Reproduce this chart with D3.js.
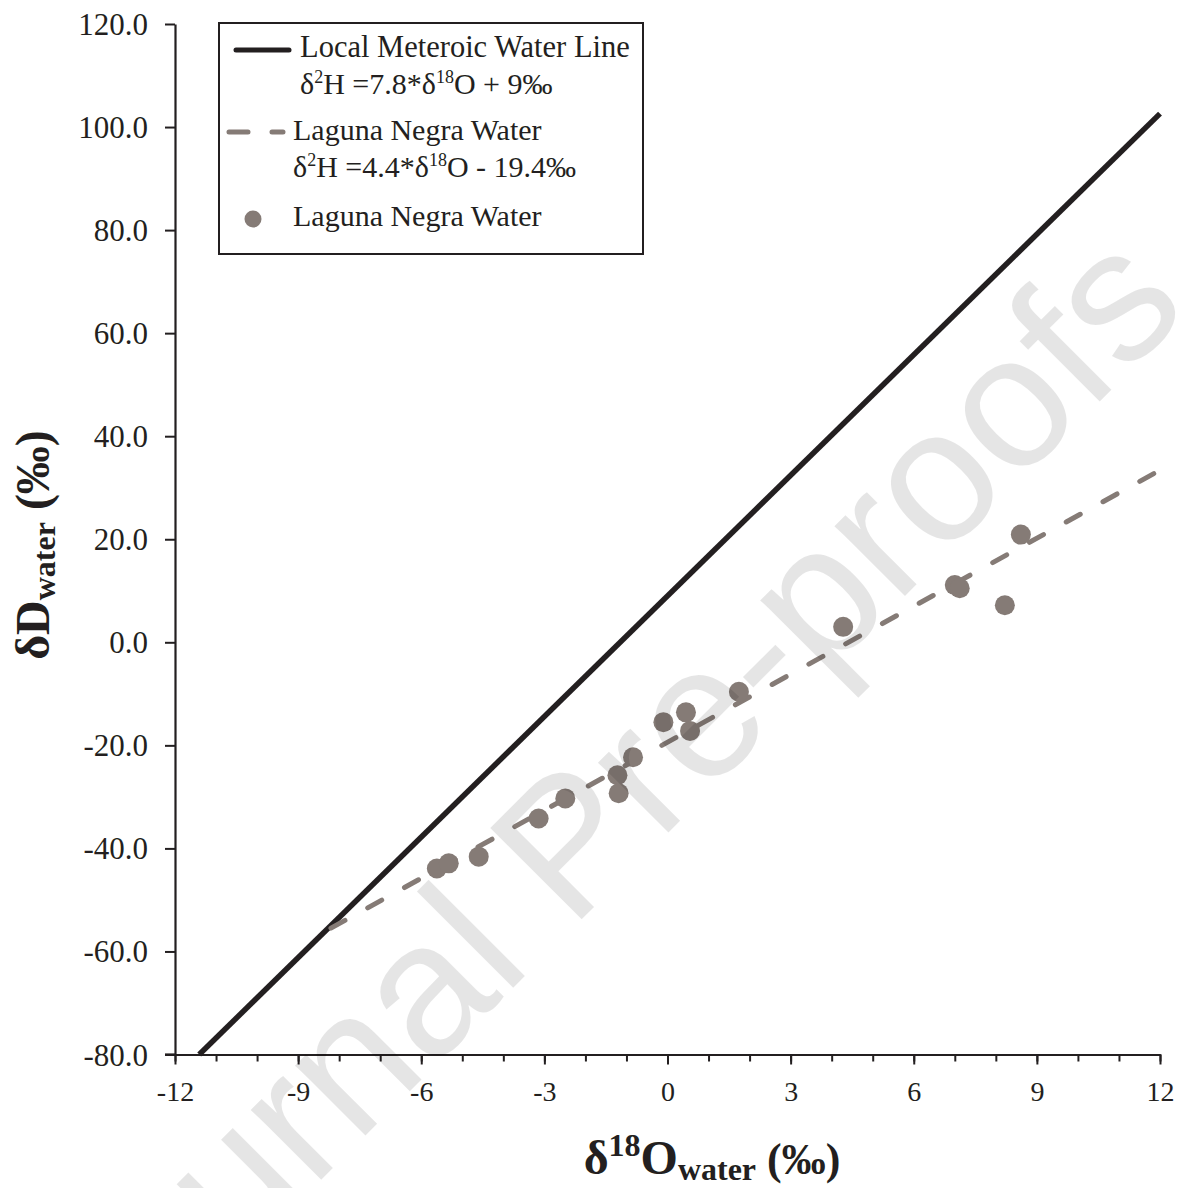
<!DOCTYPE html>
<html>
<head>
<meta charset="utf-8">
<script src="https://cdn.jsdelivr.net/npm/d3@7"></script>
<style>
body { margin: 0; background: #fff; }
svg text { font-family: "Liberation Serif", "Times New Roman", serif; fill: #231f20; }
</style>
</head>
<body>
<div id="chart"></div>
<script>
// data
var sampleO18 = [-5.62, -5.33, -4.60, -3.14, -2.49, -1.22, -1.19, -0.84, -0.10, 0.45, 0.55, 1.74, 4.28, 7.00, 7.12, 8.22, 8.61];
var sampleD   = [-43.9, -42.9, -41.6, -34.2, -30.3, -25.8, -29.3, -22.3, -15.5, -13.6, -17.2, -9.6, 3.0, 11.1, 10.5, 7.2, 20.9];

// regression lines (slope, intercept)
var lmwl = {slope: 7.8, intercept: 9};
var lagunaFit = {slope: 4.4, intercept: -19.4, xStart: -8.2};

var xDomain = [-12, 12];
var yDomain = [-80, 120];
var xTickValues = d3.range(-12, 13, 3);
var xMinorTicks = d3.range(-12, 13, 1);
var yTickValues = d3.range(-80, 121, 20);

var ink = "#231f20";
var grey = "#857b76";

var W = 1183, H = 1188;

var svg = d3.select("#chart").append("svg")
    .attr("width", W)
    .attr("height", H);

var x = d3.scaleLinear().domain(xDomain).range([175, 1160]);
var y = d3.scaleLinear().domain(yDomain).range([1054.5, 24]);

// plain hyphen for negatives, like the original
function hyph(fmt){
    return function(d){ return fmt(d).replace("−", "-"); };
}

// y axis
var yAxis = svg.append("g")
    .attr("transform", "translate(" + x(-12) + ",0)")
    .call(d3.axisLeft(y).tickValues(yTickValues).tickSize(10).tickSizeOuter(0)
        .tickFormat(hyph(d3.format(".1f"))));
yAxis.selectAll("text")
    .attr("x", -27)
    .attr("dy", "0.34em")
    .style("font-size", "31px");

// x axis, minor ticks first
var xMinor = svg.append("g")
    .attr("transform", "translate(0," + y(-80) + ")")
    .call(d3.axisBottom(x).tickValues(xMinorTicks).tickSize(7).tickSizeOuter(0).tickFormat(""));
var xAxis = svg.append("g")
    .attr("transform", "translate(0," + y(-80) + ")")
    .call(d3.axisBottom(x).tickValues(xTickValues).tickSize(10).tickSizeOuter(0)
        .tickFormat(hyph(d3.format("d"))));
xAxis.selectAll("text")
    .attr("y", 27)
    .attr("dy", "0.71em")
    .style("font-size", "28px");

svg.selectAll(".domain, .tick line")
    .attr("stroke", ink)
    .attr("stroke-width", 2);
svg.selectAll(".domain").attr("stroke-width", 2.2);

// extend the x axis line under the y axis ticks
svg.append("line")
    .attr("x1", x(-12) - 10).attr("x2", x(-12))
    .attr("y1", y(-80)).attr("y2", y(-80))
    .attr("stroke", ink).attr("stroke-width", 2.2);

// LMWL, clipped to the plot at y = -80
var lmwlStart = (yDomain[0] - lmwl.intercept) / lmwl.slope;
var lmwlPts = [lmwlStart, xDomain[1]].map(function(v){ return [v, lmwl.slope * v + lmwl.intercept]; });
var line = d3.line().x(function(d){ return x(d[0]); }).y(function(d){ return y(d[1]); });

svg.append("path")
    .datum(lmwlPts)
    .attr("d", line)
    .attr("fill", "none")
    .attr("stroke", ink)
    .attr("stroke-width", 5.5);

// Laguna Negra fit, dashed
var fitPts = [lagunaFit.xStart, xDomain[1]].map(function(v){ return [v, lagunaFit.slope * v + lagunaFit.intercept]; });
svg.append("path")
    .datum(fitPts)
    .attr("d", line)
    .attr("fill", "none")
    .attr("stroke", grey)
    .attr("stroke-width", 5)
    .attr("stroke-linecap", "round")
    .attr("stroke-dasharray", "16,26");

// samples
svg.append("g").selectAll("circle")
    .data(sampleO18)
    .enter().append("circle")
    .attr("cx", function(d){ return x(d); })
    .attr("cy", function(d, i){ return y(sampleD[i]); })
    .attr("r", 10)
    .attr("fill", grey);

// legend
var leg = svg.append("g");
leg.append("rect")
    .attr("x", 219).attr("y", 23)
    .attr("width", 424).attr("height", 231)
    .attr("fill", "none")
    .attr("stroke", ink)
    .attr("stroke-width", 2);

leg.append("line")
    .attr("x1", 236).attr("x2", 289).attr("y1", 50).attr("y2", 50)
    .attr("stroke", ink).attr("stroke-width", 5).attr("stroke-linecap", "round");
leg.append("line")
    .attr("x1", 229).attr("x2", 283).attr("y1", 132).attr("y2", 132)
    .attr("stroke", grey).attr("stroke-width", 5).attr("stroke-linecap", "round")
    .attr("stroke-dasharray", "19,24");
leg.append("circle")
    .attr("cx", 253).attr("cy", 219).attr("r", 8.5)
    .attr("fill", grey);

function eqText(g, xPos, yPos, pre, post){
    var t = g.append("text").attr("x", xPos).attr("y", yPos).style("font-size", "30px");
    t.append("tspan").text("δ");
    t.append("tspan").attr("dy", -11).style("font-size", "18px").text("2");
    t.append("tspan").attr("dy", 11).text("H =" + pre + "*δ");
    t.append("tspan").attr("dy", -11).style("font-size", "18px").text("18");
    t.append("tspan").attr("dy", 11).text("O " + post);
}

leg.append("text").attr("x", 300).attr("y", 57).style("font-size", "30.5px")
    .text("Local Meteroic Water Line");
eqText(leg, 300, 94, "7.8", "+ 9‰");
leg.append("text").attr("x", 293).attr("y", 140).style("font-size", "30px")
    .text("Laguna Negra Water");
eqText(leg, 293, 177, "4.4", "- 19.4‰");
leg.append("text").attr("x", 293).attr("y", 226).style("font-size", "30px")
    .text("Laguna Negra Water");

// axis titles
var xt = svg.append("text")
    .attr("x", 712).attr("y", 1174)
    .attr("text-anchor", "middle")
    .style("font-weight", "bold")
    .style("font-size", "48px");
xt.append("tspan").text("δ");
xt.append("tspan").attr("dy", -18).style("font-size", "32px").text("18");
xt.append("tspan").attr("dy", 18).text("O");
xt.append("tspan").attr("dy", 6).style("font-size", "32px").text("water");
xt.append("tspan").attr("dy", -6).style("font-size", "44px").text(" (‰)");

var yt = svg.append("text")
    .attr("transform", "translate(49,545) rotate(-90)")
    .attr("text-anchor", "middle")
    .style("font-weight", "bold")
    .style("font-size", "48px");
yt.append("tspan").text("δD");
yt.append("tspan").attr("dy", 6).style("font-size", "32px").text("water");
yt.append("tspan").attr("dy", -6).text(" (‰)");

// watermark
svg.append("text")
    .attr("transform", "translate(598,810) rotate(-45)")
    .attr("text-anchor", "middle")
    .attr("dy", "0.35em")
    .style("font-family", "'Liberation Sans', Arial, sans-serif")
    .style("font-size", "188px")
    .style("fill", "#000")
    .style("fill-opacity", 0.1)
    .text("Journal Pre-proofs");
</script>
</body>
</html>
